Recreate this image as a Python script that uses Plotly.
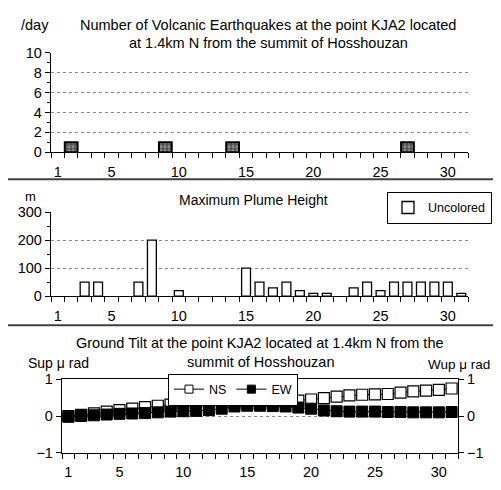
import plotly.graph_objects as go

# The page body has an 8px margin, so figure pixel = reference pixel - 8.
# The figure is sized so the page fits the 501x490 window exactly.
OFF = 8
W, H = 485, 474

days = list(range(1, 32))
day_ticks = [1, 5, 10, 15, 20, 25, 30]

# Number of volcanic earthquakes per day
quakes = [None, 1, None, None, None, None, None, None, 1, None,
          None, None, None, 1, None, None, None, None, None, None,
          None, None, None, None, None, None, 1, None, None, None, None]

# Maximum plume height (m)
plume = [None, None, 50, 50, None, None, 50, 200, None, 20,
         None, None, None, None, 100, 50, 30, 50, 20, 10,
         10, None, 30, 50, 20, 50, 50, 50, 50, 50, 10]

# Ground tilt (micro rad)
tilt_ns = [0.00, 0.03, 0.07, 0.12, 0.16, 0.20, 0.24, 0.28, 0.31, 0.35,
           0.39, 0.43, 0.43, 0.36, 0.35, 0.35, 0.36, 0.39, 0.42, 0.45,
           0.49, 0.53, 0.56, 0.58, 0.59, 0.60, 0.64, 0.67, 0.69, 0.71, 0.75]
tilt_ew = [-0.02, 0.00, 0.02, 0.04, 0.06, 0.07, 0.08, 0.10, 0.12, 0.13,
           0.14, 0.16, 0.20, 0.26, 0.28, 0.28, 0.27, 0.26, 0.23, 0.20,
           0.15, 0.13, 0.12, 0.12, 0.12, 0.11, 0.11, 0.10, 0.10, 0.10, 0.11]

FONT = "Liberation Sans, Arial, sans-serif"


def fx(px):
    return (px - OFF) / W


def fy(py):
    return 1 - (py - OFF) / H


def px_x(a, b):
    return [fx(a), fx(b)]


def px_y(top, bottom):
    return [fy(bottom), fy(top)]


fig = go.Figure()

fig.add_trace(go.Bar(
    x=days, y=quakes, xaxis="x", yaxis="y", width=0.95,
    marker=dict(color="#505050", line=dict(color="black", width=2),
                pattern=dict(shape=".", fgcolor="#d8d8d8", size=4, solidity=0.45)),
    showlegend=False, name="quakes"))

fig.add_trace(go.Bar(
    x=days, y=plume, xaxis="x2", yaxis="y2", width=0.66,
    marker=dict(color="white", line=dict(color="black", width=1.3)),
    name="Uncolored", legend="legend"))

fig.add_trace(go.Scatter(
    x=days, y=tilt_ns, xaxis="x3", yaxis="y3", mode="lines+markers",
    line=dict(color="black", width=1),
    marker=dict(symbol="square", size=11, color="white", line=dict(color="black", width=1.2)),
    name="NS", showlegend=False))

fig.add_trace(go.Scatter(
    x=days, y=tilt_ew, xaxis="x3", yaxis="y4", mode="lines+markers",
    line=dict(color="black", width=1),
    marker=dict(symbol="square", size=11, color="black", line=dict(color="black", width=1)),
    name="EW", showlegend=False))

# legend-only entries with small symbols, as in the reference legend
for name, fill in (("NS", "white"), ("EW", "black")):
    fig.add_trace(go.Scatter(
        x=[None], y=[None], xaxis="x3", yaxis="y3", mode="lines+markers",
        line=dict(color="black", width=1),
        marker=dict(symbol="square", size=8, color=fill, line=dict(color="black", width=1)),
        name=name, legend="legend2"))

xcommon = dict(range=[0.5, 31.5], tickmode="array", tickvals=day_ticks, ticks="",
               showline=True, linecolor="black", linewidth=1.3, showgrid=False,
               zeroline=False, ticklabelstandoff=6,
               minor=dict(tick0=0.5, dtick=1, ticks="outside", ticklen=5,
                          tickcolor="black", showgrid=False),
               tickfont=dict(size=14.5, color="black", family=FONT))

ycommon = dict(showline=True, linecolor="black", linewidth=1.3, zeroline=False,
               ticks="outside", ticklen=5, tickcolor="black",
               tickfont=dict(size=14.5, color="black", family=FONT))

fig.update_layout(
    width=W, height=H, margin=dict(l=0, r=0, t=0, b=0),
    paper_bgcolor="white", plot_bgcolor="white",
    font=dict(family=FONT, size=13, color="black"),
    barmode="overlay",
    xaxis=dict(domain=px_x(51, 468), anchor="y", **xcommon),
    yaxis=dict(domain=px_y(46, 149), anchor="x", range=[0, 10], tickvals=[0, 2, 4, 6, 8, 10],
               showgrid=True, gridcolor="#8a8a8a", griddash="dot", gridwidth=1,
               minor=dict(tickvals=[1, 3, 5, 7, 9], ticks="outside", ticklen=3,
                          tickcolor="black", showgrid=False),
               **ycommon),
    xaxis2=dict(domain=px_x(51, 468), anchor="y2", **xcommon),
    yaxis2=dict(domain=px_y(211, 298), anchor="x2", range=[0, 300], tickvals=[0, 100, 200, 300],
                showgrid=True, gridcolor="#8a8a8a", griddash="dot", gridwidth=1,
                minor=dict(tickvals=[50, 150, 250], ticks="outside", ticklen=3,
                           tickcolor="black", showgrid=False),
                **ycommon),
    xaxis3=dict(domain=px_x(62, 458), anchor="y3", mirror=True, **xcommon),
    yaxis3=dict(domain=px_y(384, 460), anchor="x3", range=[-1, 1], tickvals=[-1, 0, 1],
                ticktext=["\u22121", "0", "1"],
                showgrid=True, gridcolor="#8a8a8a", griddash="dot", gridwidth=1,
                **ycommon),
    yaxis4=dict(domain=px_y(384, 460), anchor="x3", overlaying="y3", side="right",
                range=[-1, 1], tickvals=[-1, 0, 1], ticktext=["\u22121", "0", "1"],
                showgrid=False, **ycommon),
    legend=dict(x=fx(492), y=fy(190), xanchor="right", yanchor="top",
                bgcolor="white", bordercolor="black", borderwidth=1,
                font=dict(size=12.5, family=FONT), itemwidth=30,
                tracegroupgap=0),
    legend2=dict(x=fx(168), y=fy(378), xanchor="left", yanchor="top",
                 orientation="h", bgcolor="white", bordercolor="black", borderwidth=1,
                 font=dict(size=12.5, family=FONT), itemsizing="trace"),
)

anns = [
    ("/day", 35, 17, 14.5, "center"),
    ("Number of Volcanic Earthquakes at the point KJA2 located", 268, 17, 14.5, "center"),
    ("at 1.4km N from the summit of Hosshouzan", 268, 36, 14.5, "center"),
    ("m", 30, 195, 13, "center"),
    ("Maximum Plume Height", 253, 198, 14, "center"),
    ("Ground Tilt at the point KJA2 located at 1.4km N from the", 260, 346, 14.5, "center"),
    ("summit of Hosshouzan", 260, 366, 14.5, "center"),
    ("Sup \u03bc rad", 58, 367, 14, "center"),
    ("Wup \u03bc rad", 492, 369, 13.5, "right"),
]
for text, x, y, s, anchor in anns:
    fig.add_annotation(text=text, x=fx(x), y=fy(y), xref="paper", yref="paper",
                       showarrow=False, xanchor=anchor, yanchor="middle",
                       font=dict(size=s, family=FONT, color="black"))

# panel separator lines of the reference
for yy in (177, 328):
    fig.add_shape(type="line", xref="paper", yref="paper", x0=0, y0=fy(yy), x1=1, y1=fy(yy),
                  line=dict(color="#404040", width=2))

fig.write_html("out.html")
